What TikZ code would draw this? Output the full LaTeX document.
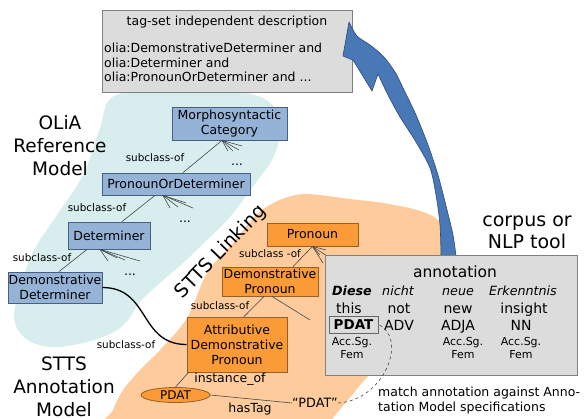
\documentclass[tikz,border=0pt]{standalone}
\usepackage{fontspec}
\setmainfont{DejaVu Sans}
\usetikzlibrary{shapes.geometric,calc}

\definecolor{tealbg}{RGB}{216,237,238}
\definecolor{orangebg}{RGB}{254,204,156}
\definecolor{bluenode}{RGB}{149,179,215}
\definecolor{blueedge}{RGB}{70,95,130}
\definecolor{orangenode}{RGB}{250,155,55}
\definecolor{orangeedge}{RGB}{150,95,40}
\definecolor{boxgray}{RGB}{220,220,220}
\definecolor{boxedge}{RGB}{128,128,128}
\definecolor{arrowblue}{RGB}{72,120,182}
\definecolor{arrowedge}{RGB}{45,75,120}
\definecolor{linkgray}{RGB}{70,70,70}

\tikzset{
  clsfont/.style={font=\fontsize{12.5}{15}\selectfont},
  bluecls/.style={draw=blueedge, fill=bluenode, line width=0.8pt, inner sep=0pt, align=center, clsfont},
  orangecls/.style={draw=orangeedge, fill=orangenode, line width=0.8pt, inner sep=0pt, align=center, clsfont},
  rel/.style={draw=linkgray, line width=0.6pt},
  rellabel/.style={font=\fontsize{10.4}{12}\selectfont, inner sep=0pt},
  plainlabel/.style={font=\fontsize{12.5}{15}\selectfont, inner sep=0pt},
  biglabel/.style={font=\fontsize{18.5}{23}\selectfont, align=center, inner sep=0pt},
  graybox/.style={draw=boxedge, fill=boxgray, line width=0.8pt, inner sep=0pt},
  rowone/.style={anchor=base, inner sep=0pt, font=\fontsize{12.7}{15}\selectfont\itshape},
  rowtwo/.style={anchor=base, inner sep=0pt, font=\fontsize{14}{16}\selectfont},
  morph/.style={anchor=base, inner sep=0pt, font=\fontsize{11}{13}\selectfont},
}

\begin{document}
\begin{tikzpicture}[x=1pt,y=-1pt]
\useasboundingbox (0,0) rectangle (585,418);

% shaded areas of the two models
\fill[orangebg] plot[smooth cycle, tension=0.55] coordinates {(106,432) (113,410) (123,390) (140,370) (160,350) (187,318) (207,273) (233,243) (255,216) (268,206) (285,198) (307,194) (350,199) (383,203) (417,210) (438,220) (446,240) (440,300) (370,374) (352,395) (333,418) (320,436) (220,440)};
\fill[tealbg] plot[smooth cycle, tension=0.6] coordinates {(110,99) (140,90) (187,88) (233,91) (263,98) (277,112) (280,135) (272,160) (257,181) (230,217) (207,240) (183,263) (160,283) (140,302) (128,320) (112,333) (83,343) (50,347) (25,338) (14,318) (20,290) (33,252) (57,215) (83,175) (100,128)};

% tag-set independent description
\node[graybox, minimum width=250, minimum height=82] (desc) at (227,51) {};
\node[plainlabel] (desctitle) at (227,22) {tag-set independent description};
\node[plainlabel, anchor=base west] (descA) at (104,52.5) {olia:DemonstrativeDeterminer and};
\node[plainlabel, anchor=base west] (descB) at (104,67) {olia:Determiner and};
\node[plainlabel, anchor=base west] (descC) at (104,81.5) {olia:PronounOrDeterminer and ...};

% curved block arrow up to the description
\filldraw[fill=arrowblue, draw=arrowedge, line width=0.6pt, line join=round]
  (441,256) -- plot[smooth] coordinates {(441,256) (440,225) (436,195) (430,168) (416,142) (400,117) (388,95) (378,74)}
  -- (372,91) -- (353,60) -- (343,56) -- (349,22)
  -- plot[smooth] coordinates {(349,22) (357,36) (370,45) (383,56) (395,72) (405,92) (416,115) (428,145) (438,175) (447,210) (453,235) (456,256)}
  -- cycle;

% OLiA reference model
\node[bluecls, minimum width=115, minimum height=33] (morph) at (229.5,123.5) {Morphosyntactic\\Category};
\node[bluecls, minimum width=148, minimum height=22] (pod) at (176,184) {PronounOrDeterminer};
\node[bluecls, minimum width=82, minimum height=27] (det) at (109,235.5) {Determiner};
\node[bluecls, minimum width=94, minimum height=31] (demdet) at (55,287.5) {Demonstrative\\Determiner};

\draw[rel] ($(morph.south)+(-7.5,0)$) -- ($(pod.north)+(7,0)$);
\draw[rel] ($(pod.south)+(-21,0)$) -- ($(det.north)+(13,0)$);
\draw[rel] ($(det.south)+(-22,0)$) -- ($(demdet.north)+(4,0)$);

\coordinate (morphfan) at ($(morph.south)+(-7.5,0)$);
\foreach \p in {(228,151),(233,151),(239,150),(242,146)} \draw[rel] (morphfan) -- \p;
\coordinate (podfan) at ($(pod.south)+(-13,0)$);
\foreach \p in {(170,208),(178,207),(193,208),(186,203)} \draw[rel] (podfan) -- \p;
\coordinate (detfan) at ($(det.south)+(-9,0)$);
\foreach \p in {(108,261),(117,258),(125,260),(140,261)} \draw[rel] (detfan) -- \p;

\node[rellabel] (l1) at (155,158) {subclass-of};
\node[rellabel] (l2) at (97,208) {subclass-of};
\node[rellabel] (l3) at (42,258) {subclass-of};
\node[plainlabel] (d1) at (237,165) {...};
\node[plainlabel] (d2) at (185,222) {...};
\node[plainlabel] (d3) at (130,275) {...};

\node[biglabel] (olia) at (60,146) {OLiA\\Reference\\Model};
\node[biglabel] (sttsmodel) at (64,387) {STTS\\Annotation\\Model};
\node[biglabel, rotate=46, font=\fontsize{19}{23}\selectfont] (linking) at (221,252) {STTS Linking};

% STTS annotation model
\node[orangecls, minimum width=91, minimum height=23] (pron) at (312.5,234.5) {Pronoun};
\node[orangecls, minimum width=96, minimum height=29] (dempron) at (270,281.5) {Demonstrative\\Pronoun};
\node[orangecls, minimum width=100, minimum height=55] (attr) at (237,344.5) {Attributive\\Demonstrative\\Pronoun};
\node[ellipse, draw=orangeedge, fill=orangenode, line width=0.8pt, inner sep=0pt, minimum width=69, minimum height=15, font=\fontsize{12}{14}\selectfont] (pdat) at (175.5,395) {PDAT};
\node[plainlabel, font=\fontsize{12.8}{15}\selectfont] (pdatstr) at (315,403) {“PDAT”};

\draw[rel] (pron.south) -- ($(dempron.north)+(23,0)$);
\draw[rel] ($(dempron.south)+(-6,0)$) -- ($(attr.north)+(7,0)$);
\draw[rel] ($(dempron.south)+(2,0)$) -- (310,320);
\coordinate (pronfan) at (pron.south);
\foreach \p in {(320,255),(323,263),(327,256),(326,250)} \draw[rel] (pronfan) -- \p;
\draw[rel] ($(attr.south west)+(2,0)$) -- (pdat.north);
\draw[rel] (pdat.east) -- (pdatstr.west);

\node[rellabel] (l4) at (270,254) {subclass -of};
\node[rellabel] (l5) at (220,306) {subclass-of};
\node[rellabel] (l6) at (126,345) {subclass-of};
\node[plainlabel] (inst) at (230,379) {instance\_of};
\node[plainlabel] (hastag) at (250,409) {hasTag};

% linking of the two models
\draw[line width=1.3pt] (demdet.east) to[out=0, in=180, looseness=1.2] (attr.west);

% corpus annotation
\node[font=\fontsize{19}{22}\selectfont, inner sep=0pt, anchor=base] (corpus) at (527,226) {corpus or};
\node[font=\fontsize{19}{22}\selectfont, inner sep=0pt, anchor=base] (nlp) at (527,248) {NLP tool};

\node[graybox, minimum width=252, minimum height=120] (annot) at (451,315) {};
\node[font=\fontsize{15.5}{18}\selectfont, inner sep=0pt, anchor=base] (annottitle) at (455,277) {annotation};

\node[rowone, font=\fontsize{12.7}{15}\selectfont\bfseries\itshape] (w1) at (352,295) {Diese};
\node[rowone] (w2) at (398,295) {nicht};
\node[rowone] (w3) at (458,295) {neue};
\node[rowone] (w4) at (523,295) {Erkenntnis};

\node[rowtwo] (g1) at (349,313) {this};
\node[rowtwo] (g2) at (399,313) {not};
\node[rowtwo] (g3) at (458,313) {new};
\node[rowtwo] (g4) at (524,313) {insight};

\node[draw=boxedge!80!black, line width=0.8pt, minimum width=49, minimum height=17, inner sep=0pt, font=\fontsize{13.5}{16}\selectfont\bfseries] (pdatbox) at (353.5,324.5) {PDAT};
\node[rowtwo] (t2) at (399,330) {ADV};
\node[rowtwo] (t3) at (458,330) {ADJA};
\node[rowtwo] (t4) at (521,330) {NN};

\node[morph] (m1a) at (352,345) {Acc.Sg.};
\node[morph] (m1b) at (352,358) {Fem};
\node[morph] (m3a) at (463,345) {Acc.Sg.};
\node[morph] (m3b) at (463,358) {Fem};
\node[morph] (m4a) at (521,345) {Acc.Sg.};
\node[morph] (m4b) at (521,358) {Fem};

\draw[dashed, draw=linkgray, line width=0.6pt] (pdatstr.east) .. controls (385,400) and (408,338) .. (pdatbox.east);

\node[plainlabel, anchor=base west] (match1) at (378,396) {match annotation against Anno-};
\node[plainlabel, anchor=base west] (match2) at (378,411) {tation Model specifications};
\end{tikzpicture}
\end{document}
